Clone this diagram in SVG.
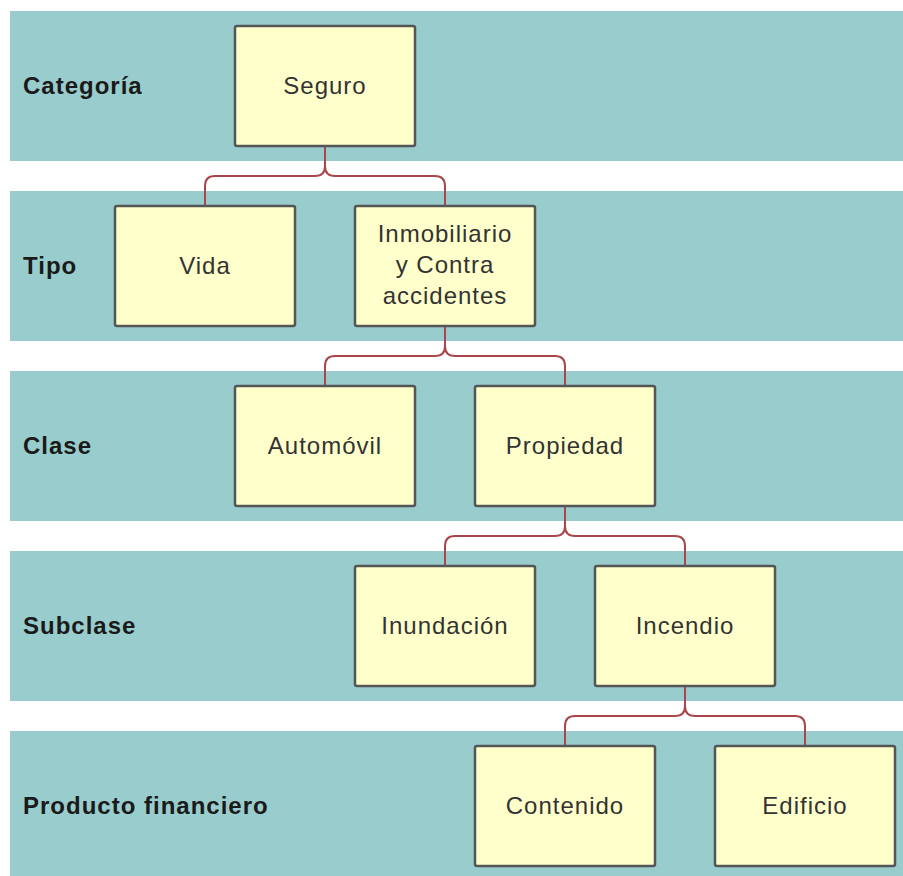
<svg xmlns="http://www.w3.org/2000/svg" width="903" height="876" viewBox="0 0 903 876">
<style>
.band{fill:#99cccc}
.lbl{font-family:"Liberation Sans",Arial,sans-serif;font-size:24px;font-weight:bold;fill:#1a1a1a;letter-spacing:1px}
.node rect{fill:#ffffcc;stroke:#555;stroke-width:2.5}
.node text{font-family:"Liberation Sans",Arial,sans-serif;font-size:24px;fill:#333;letter-spacing:1px;text-anchor:middle}
.conn path{fill:none;stroke:#a8464b;stroke-width:2}
</style>
<rect width="903" height="876" fill="#fff"/>
<g id="bands">
<rect class="band" x="10" y="11" width="893" height="150"/>
<rect class="band" x="10" y="191" width="893" height="150"/>
<rect class="band" x="10" y="371" width="893" height="150"/>
<rect class="band" x="10" y="551" width="893" height="150"/>
<rect class="band" x="10" y="731" width="893" height="150"/>
</g>
<g id="labels">
<text class="lbl" x="23" y="94">Categoría</text>
<text class="lbl" x="23" y="274">Tipo</text>
<text class="lbl" x="23" y="454">Clase</text>
<text class="lbl" x="23" y="634">Subclase</text>
<text class="lbl" x="23" y="814">Producto financiero</text>
</g>
<g id="connectors" class="conn">
<path d="M325,146 V166 Q325,176 315,176 H215 Q205,176 205,186 V206"/>
<path d="M325,146 V166 Q325,176 335,176 H435 Q445,176 445,186 V206"/>
<path d="M445,326 V346 Q445,356 435,356 H335 Q325,356 325,366 V386"/>
<path d="M445,326 V346 Q445,356 455,356 H555 Q565,356 565,366 V386"/>
<path d="M565,506 V526 Q565,536 555,536 H455 Q445,536 445,546 V566"/>
<path d="M565,506 V526 Q565,536 575,536 H675 Q685,536 685,546 V566"/>
<path d="M685,686 V706 Q685,716 675,716 H575 Q565,716 565,726 V746"/>
<path d="M685,686 V706 Q685,716 695,716 H795 Q805,716 805,726 V746"/>
</g>
<g id="seguro" class="node"><rect x="235" y="26" width="180" height="120" rx="2"/><text x="325" y="94">Seguro</text></g>
<g id="vida" class="node"><rect x="115" y="206" width="180" height="120" rx="2"/><text x="205" y="274">Vida</text></g>
<g id="inmobiliario" class="node"><rect x="355" y="206" width="180" height="120" rx="2"/><text x="445" y="242">Inmobiliario</text><text x="445" y="273">y Contra</text><text x="445" y="304">accidentes</text></g>
<g id="automovil" class="node"><rect x="235" y="386" width="180" height="120" rx="2"/><text x="325" y="454">Automóvil</text></g>
<g id="propiedad" class="node"><rect x="475" y="386" width="180" height="120" rx="2"/><text x="565" y="454">Propiedad</text></g>
<g id="inundacion" class="node"><rect x="355" y="566" width="180" height="120" rx="2"/><text x="445" y="634">Inundación</text></g>
<g id="incendio" class="node"><rect x="595" y="566" width="180" height="120" rx="2"/><text x="685" y="634">Incendio</text></g>
<g id="contenido" class="node"><rect x="475" y="746" width="180" height="120" rx="2"/><text x="565" y="814">Contenido</text></g>
<g id="edificio" class="node"><rect x="715" y="746" width="180" height="120" rx="2"/><text x="805" y="814">Edificio</text></g>
</svg>
